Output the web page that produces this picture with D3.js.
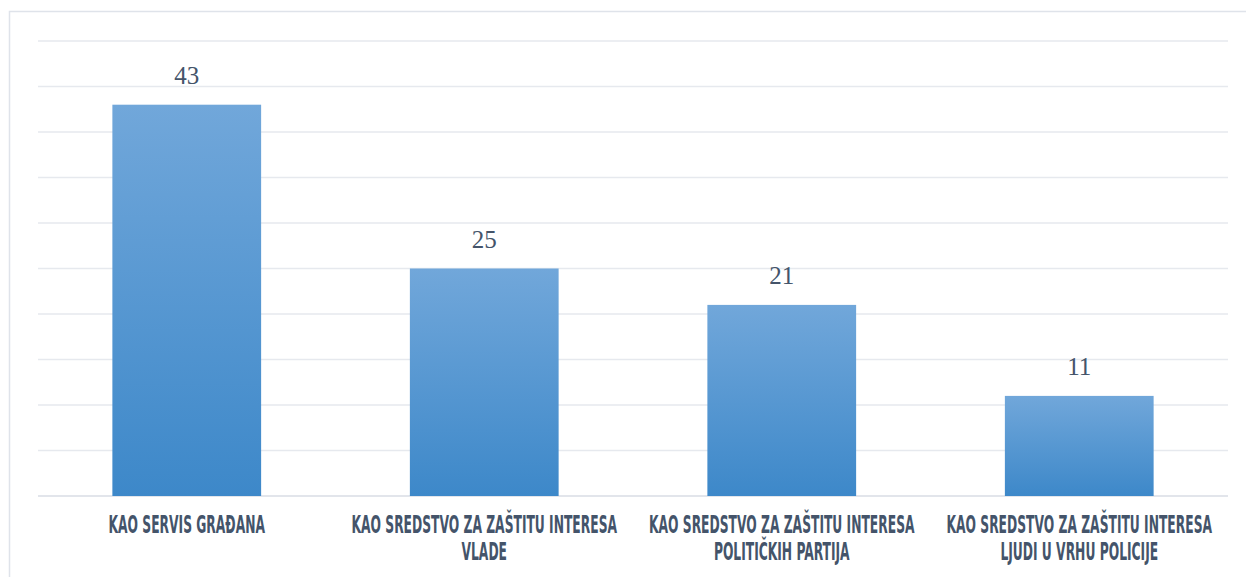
<!DOCTYPE html>
<html lang="sr">
<head>
<meta charset="utf-8">
<script src="https://d3js.org/d3.v7.min.js"></script>
<style>
  body { margin: 0; background: #fff; }
</style>
</head>
<body>
<div id="chart"></div>
<script>
// data
const categories = [
  ["KAO SERVIS GRAĐANA"],
  ["KAO SREDSTVO ZA ZAŠTITU INTERESA", "VLADE"],
  ["KAO SREDSTVO ZA ZAŠTITU INTERESA", "POLITIČKIH PARTIJA"],
  ["KAO SREDSTVO ZA ZAŠTITU INTERESA", "LJUDI U VRHU POLICIJE"]
];
const values = [43, 25, 21, 11];
const yTicks = [0, 5, 10, 15, 20, 25, 30, 35, 40, 45, 50];

const W = 1246, H = 577;
const margin = {top: 41, right: 18, bottom: 81, left: 38};
const width = W - margin.left - margin.right,
      height = H - margin.top - margin.bottom;

const svg = d3.select("#chart").append("svg")
  .attr("width", W).attr("height", H);

// outer frame
svg.append("rect")
  .attr("x", 9.5).attr("y", 11.5)
  .attr("width", W).attr("height", H)
  .attr("fill", "none").attr("stroke", "#dfe3ea").attr("stroke-width", 1.5);

const defs = svg.append("defs");
const grad = defs.append("linearGradient")
  .attr("id", "barGrad").attr("x1", 0).attr("y1", 0).attr("x2", 0).attr("y2", 1);
grad.append("stop").attr("offset", "0%").attr("stop-color", "#71a7da");
grad.append("stop").attr("offset", "100%").attr("stop-color", "#3d88c9");

const g = svg.append("g").attr("transform", `translate(${margin.left},${margin.top})`);

const x = d3.scaleBand()
  .domain(d3.range(categories.length))
  .range([0, width])
  .paddingInner(0.5)
  .paddingOuter(0.25);

const y = d3.scaleLinear().domain([0, 50]).range([height, 0]);

// gridlines
g.append("g")
  .selectAll("line")
  .data(yTicks)
  .join("line")
  .attr("x1", 0).attr("x2", width)
  .attr("y1", d => y(d)).attr("y2", d => y(d))
  .attr("stroke", d => d === 0 ? "#d9dde4" : "#e6e9ee")
  .attr("stroke-width", 1.5);

// bars
g.selectAll(".bar")
  .data(values)
  .join("rect")
  .attr("class", "bar")
  .attr("x", (d, i) => x(i))
  .attr("y", d => y(d))
  .attr("width", x.bandwidth())
  .attr("height", d => height - y(d))
  .attr("fill", "url(#barGrad)");

// value labels
g.selectAll(".val")
  .data(values)
  .join("text")
  .attr("class", "val")
  .attr("x", (d, i) => x(i) + x.bandwidth() / 2)
  .attr("y", d => y(d) - 21)
  .attr("text-anchor", "middle")
  .style("font-family", "'Liberation Serif', 'DejaVu Serif', serif")
  .attr("font-size", 25)
  .attr("fill", "#44546a")
  .text(d => d);

// category labels
const lab = g.selectAll(".cat")
  .data(categories)
  .join("g")
  .attr("class", "cat")
  .attr("transform", (d, i) => `translate(${x(i) + x.bandwidth() / 2},${height})`);

lab.selectAll("text")
  .data(d => d)
  .join("text")
  .attr("text-anchor", "middle")
  .attr("transform", (d, j) => `translate(0,${37 + j * 27}) scale(0.76,1.35)`)
  .style("font-family", "'DejaVu Sans Condensed', 'DejaVu Sans', sans-serif")
  .attr("font-weight", "bold")
  .attr("font-size", 18)
  .attr("fill", "#44546a")
  .text(d => d);
</script>
</body>
</html>
